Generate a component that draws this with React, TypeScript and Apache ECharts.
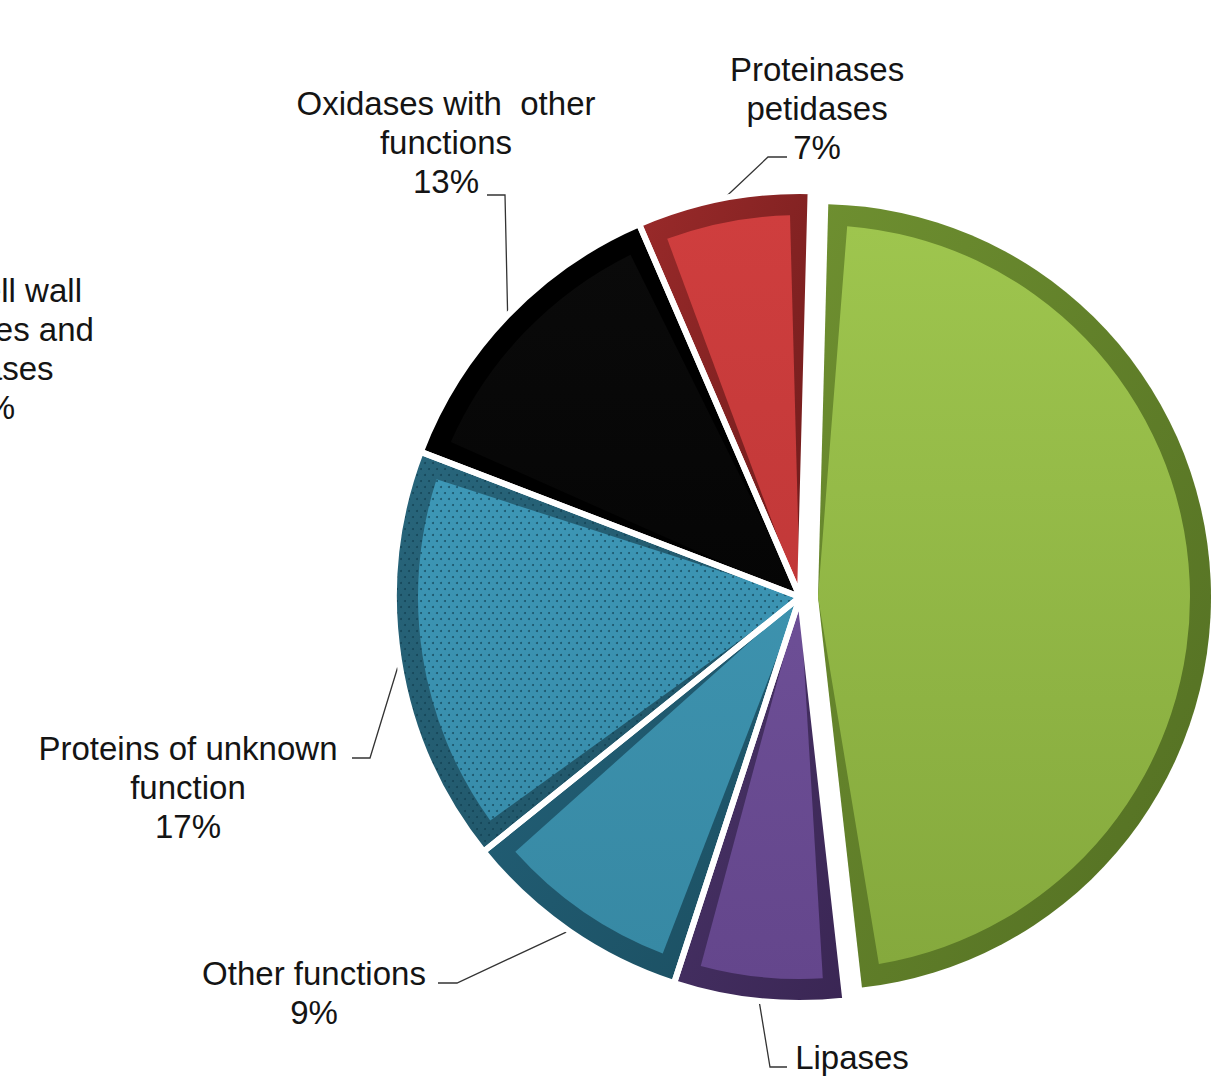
import React, { useEffect, useRef } from "react";
import * as echarts from "echarts";

// ---- data ----
const categories = [
  "Plant cell wall\nhydrolases and\nesterases",
  "Lipases",
  "Other functions",
  "Proteins of unknown\nfunction",
  "Oxidases with  other\nfunctions",
  "Proteinases\npetidases",
];
const values = [47.8, 6.8, 9.2, 16.6, 12.7, 6.9];
const explodedIndex = 0;

// ---- styles ----
const faceTop = ["#9EC54E", "#6D4F96", "#3D92AE", "#3D97B6", "#0A0A0A", "#CF3E3E"];
const faceBottom = ["#85A93D", "#64468C", "#3789A4", "#388DAB", "#050505", "#C13838"];
const edgeTop = ["#6E8F30", "#4A3469", "#23627A", "#28667C", "#000000", "#9A2A2A"];
const edgeBottom = ["#526E22", "#3A2654", "#1B4E60", "#1E5163", "#000000", "#6E1B1B"];
const dotted = [false, false, false, true, false, false];

// label layout: text block centre x, top y, leader bend and end points
const labelX = [-18, 852, 314, 188, 446, 817];
const labelY = [271, 1038, 954, 729, 84, 50];
const leaderBend: (number[] | null)[] = [null, [770, 1067], [457, 983], [370, 758], [505, 195], [768, 157]];
const leaderEnd: (number[] | null)[] = [null, [787, 1067], [438, 983], [352, 758], [487, 195], [787, 157]];

const MAIN_CENTER = [800, 597];
const GREEN_CENTER = [818, 597];
const START_ANGLE = 88.5;

const FONT = '"Liberation Sans", Arial, Helvetica, sans-serif';

const grad = (a: string, b: string, diag = false) =>
  new echarts.graphic.LinearGradient(0, 0, diag ? 1 : 0, 1, [
    { offset: 0, color: a },
    { offset: 1, color: b },
  ]);

const decalDots = {
  symbol: "circle",
  symbolSize: 1,
  color: "rgba(14,58,76,0.7)",
  dashArrayX: [
    [2, 6],
    [0, 4, 2, 2],
  ],
  dashArrayY: [2, 4],
  rotation: 0,
};

const TRANSPARENT = "rgba(0,0,0,0)";

function buildData(kind: "edge" | "face" | "gap", forExploded: boolean) {
  return values.map((v, i) => {
    const visible = (i === explodedIndex) === forExploded;
    const item: any = { value: v, name: categories[i] };
    if (!visible) {
      item.itemStyle = { color: TRANSPARENT, borderWidth: 0, decal: "none" };
      item.label = { show: false };
      item.labelLine = { show: false };
      return item;
    }
    if (kind === "edge") {
      item.itemStyle = {
        color: grad(edgeTop[i], edgeBottom[i], true),
        decal: dotted[i] ? decalDots : "none",
      };
    } else if (kind === "face") {
      item.itemStyle = {
        color: grad(faceTop[i], faceBottom[i]),
        decal: dotted[i] ? decalDots : "none",
      };
    } else {
      item.itemStyle = { color: TRANSPARENT };
    }
    if (i === explodedIndex) item.labelLine = { show: false };
    return item;
  });
}

const labelLayoutFn = (params: any) => {
  const i = params.dataIndex;
  const res: any = { x: labelX[i], y: labelY[i], align: "center", verticalAlign: "top" };
  const bend = leaderBend[i];
  const end = leaderEnd[i];
  if (bend && end && params.labelLinePoints) {
    res.labelLinePoints = [params.labelLinePoints[0], bend, end];
  }
  return res;
};

const labelStyle = {
  show: true,
  position: "outside",
  fontSize: 33,
  lineHeight: 39,
  color: "#141414",
  fontFamily: FONT,
  align: "center",
  formatter: (p: any) => `${p.name}\n${Math.round(p.value)}%`,
};

export default function App() {
  const ref = useRef<HTMLDivElement>(null);

  useEffect(() => {
    document.body.style.margin = "0";
    if (!ref.current) return;
    const chart = echarts.init(ref.current, undefined, { renderer: "svg" });

    const common = {
      type: "pie",
      startAngle: START_ANGLE,
      clockwise: true,
      silent: true,
      emphasis: { disabled: true },
      avoidLabelOverlap: false,
    };

    chart.setOption({
      animation: false,
      backgroundColor: "#ffffff",
      series: [
        // main pie: bevel (edge) layer with labels
        {
          ...common,
          name: "edge",
          center: MAIN_CENTER,
          radius: [0, 405],
          z: 1,
          itemStyle: { borderWidth: 0 },
          label: labelStyle,
          labelLine: { show: true, lineStyle: { color: "#333333", width: 1.3 } },
          labelLayout: labelLayoutFn,
          data: buildData("edge", false),
        },
        // main pie: face layer
        {
          ...common,
          name: "face",
          center: MAIN_CENTER,
          radius: [0, 382],
          padAngle: 6,
          z: 2,
          itemStyle: { borderWidth: 0 },
          label: { show: false },
          labelLine: { show: false },
          data: buildData("face", false),
        },
        // white separators between slices
        {
          ...common,
          name: "gap",
          center: MAIN_CENTER,
          radius: [0, 406],
          z: 3,
          itemStyle: { borderColor: "#ffffff", borderWidth: 6 },
          label: { show: false },
          labelLine: { show: false },
          data: buildData("gap", false),
        },
        // exploded slice: edge layer + its label
        {
          ...common,
          name: "explodedEdge",
          center: GREEN_CENTER,
          radius: [0, 393],
          z: 4,
          itemStyle: { borderWidth: 0 },
          label: labelStyle,
          labelLine: { show: false },
          labelLayout: labelLayoutFn,
          data: buildData("edge", true),
        },
        // exploded slice: face layer
        {
          ...common,
          name: "explodedFace",
          center: GREEN_CENTER,
          radius: [0, 372],
          padAngle: 6,
          z: 5,
          itemStyle: { borderWidth: 0 },
          label: { show: false },
          labelLine: { show: false },
          data: buildData("face", true),
        },
      ],
    });

    return () => {
      chart.dispose();
    };
  }, []);

  return <div ref={ref} style={{ width: 1215, height: 1080, overflow: "hidden" }} />;
}
